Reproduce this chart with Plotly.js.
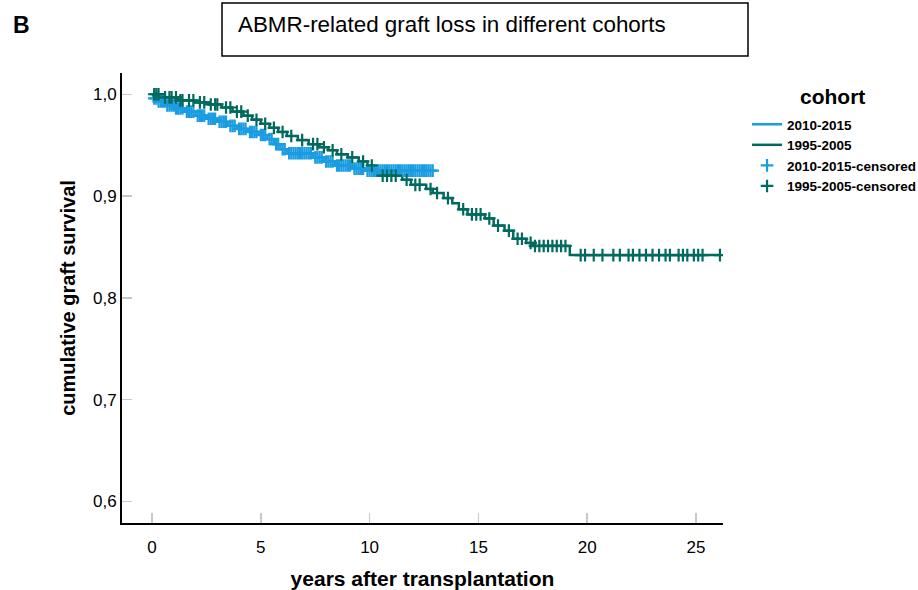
<!DOCTYPE html>
<html>
<head>
<meta charset="utf-8">
<script src="https://cdn.plot.ly/plotly-3.0.1.min.js"></script>
<style>html,body{margin:0;padding:0;background:#fff}#chart{width:918px;height:590px}</style>
</head>
<body>
<div id="chart"></div>
<script>
// ---- data ----
var cohortNames = ["2010-2015", "1995-2005"];

// Kaplan-Meier step points, cohort 2010-2015
var recentTimes = [0, 0.05, 0.3, 0.7, 1.1, 1.5, 2.0, 2.5, 3.0, 3.5, 3.9, 4.4, 4.9, 5.3, 5.6, 5.9, 6.2, 7.4, 7.9, 8.4, 9.2, 9.8, 12.9];
var recentSurv  = [1.0, 0.996, 0.993, 0.989, 0.986, 0.983, 0.979, 0.976, 0.973, 0.969, 0.966, 0.963, 0.960, 0.956, 0.951, 0.946, 0.942, 0.938, 0.934, 0.930, 0.927, 0.925, 0.925];

// Kaplan-Meier step points, cohort 1995-2005
var olderTimes = [0, 0.5, 1.2, 2.0, 2.6, 3.2, 3.7, 4.2, 4.6, 5.0, 5.4, 5.8, 6.2, 6.7, 7.2, 7.7, 8.1, 8.5, 9.0, 9.5, 9.9, 10.2, 10.4, 11.5, 11.9, 12.6, 12.9, 13.4, 13.8, 14.1, 14.5, 15.3, 15.7, 16.2, 16.6, 17.2, 17.5, 19.2, 26.1];
var olderSurv  = [1.0, 0.997, 0.994, 0.992, 0.990, 0.987, 0.983, 0.979, 0.975, 0.971, 0.967, 0.963, 0.959, 0.955, 0.951, 0.948, 0.945, 0.941, 0.938, 0.934, 0.930, 0.926, 0.920, 0.916, 0.911, 0.907, 0.903, 0.898, 0.893, 0.887, 0.882, 0.878, 0.871, 0.866, 0.858, 0.854, 0.851, 0.842, 0.842];

// censoring times
var recentCensored = [0.1,0.2,0.3,0.4,0.5,0.6,0.7,0.8,0.9,1.0,1.1,1.2,1.3,1.4,1.6,1.7,1.8,1.9,2.1,2.2,2.3,2.4,2.6,2.7,2.8,2.9,3.1,3.2,3.3,3.4,3.6,3.7,3.8,4.0,4.1,4.2,4.3,4.5,4.6,4.7,4.8,5.0,5.1,5.2,5.4,5.5,5.7,5.8,6.0,6.1,6.3,6.4,6.5,6.6,6.7,6.8,6.9,7.0,7.1,7.2,7.3,7.5,7.6,7.7,7.8,8.0,8.1,8.2,8.3,8.5,8.6,8.7,8.8,8.9,9.0,9.1,9.3,9.4,9.5,9.6,9.7,9.9,10.0,10.1,10.2,10.3,10.4,10.5,10.6,10.7,10.8,10.9,11.0,11.1,11.2,11.3,11.4,11.5,11.6,11.7,11.8,11.9,12.0,12.1,12.2,12.3,12.4,12.5,12.6,12.7,12.8,12.9];
var olderCensored = [0.1,0.2,0.3,0.6,0.8,0.9,1.1,1.3,1.4,1.7,1.9,2.2,2.4,2.7,2.9,3.0,3.4,3.6,3.9,4.1,4.4,4.8,5.2,5.6,6.0,6.4,6.9,7.4,7.6,7.9,8.3,8.7,9.2,9.7,10.1,10.6,10.8,11.0,11.2,11.7,12.1,12.3,12.8,13.1,13.6,14.3,14.7,14.9,15.1,15.5,15.9,16.4,16.8,17.0,17.4,17.6,17.8,18.0,18.2,18.4,18.6,18.8,19.0,19.7,19.9,20.3,20.7,21.2,21.5,21.9,22.1,22.4,22.7,23.0,23.3,23.6,23.8,24.2,24.4,24.6,24.9,25.1,25.3,26.1];

var xTicks = [0, 5, 10, 15, 20, 25];
var yTicks = [0.6, 0.7, 0.8, 0.9, 1.0];

// ---- helpers ----
function stepValue(times, surv, t) {
  var v = surv[0];
  for (var i = 0; i < times.length; i++) { if (times[i] <= t) v = surv[i]; }
  return v;
}
function censorY(times, surv, cens) { return cens.map(function (t) { return stepValue(times, surv, t); }); }

var blue = "#1a9ce2";
var green = "#006a5e";
var F = "Arial, 'Liberation Sans', sans-serif";

var traces = [
  {x: recentTimes, y: recentSurv, mode: "lines", line: {shape: "hv", color: blue, width: 2.5}, name: cohortNames[0]},
  {x: olderTimes, y: olderSurv, mode: "lines", line: {shape: "hv", color: green, width: 2.5}, name: cohortNames[1]},
  {x: recentCensored, y: censorY(recentTimes, recentSurv, recentCensored), mode: "markers",
   marker: {symbol: "cross-thin", size: 9, color: blue, line: {color: blue, width: 2.2}}, name: cohortNames[0] + "-censored"},
  {x: olderCensored, y: censorY(olderTimes, olderSurv, olderCensored), mode: "markers",
   marker: {symbol: "cross-thin", size: 9, color: green, line: {color: green, width: 2.2}}, name: cohortNames[1] + "-censored"}
];

var layout = {
  width: 918, height: 590,
  margin: {l: 122, r: 195, t: 73, b: 67, autoexpand: false},
  paper_bgcolor: "#fff", plot_bgcolor: "#fff",
  separators: ",.",
  font: {family: F, color: "#000"},
  showlegend: true,
  legend: {x: 1.04, y: 0.92, xanchor: "left", yanchor: "top", font: {family: F, size: 13.5, color: "#000", weight: "bold"},
           itemwidth: 30, tracegroupgap: 0, bgcolor: "rgba(0,0,0,0)"},
  xaxis: {range: [-1.38, 26.24], tickvals: xTicks, ticktext: xTicks.map(String), showgrid: false, zeroline: false,
          showline: true, linecolor: "#000", linewidth: 2, ticks: "inside", ticklen: 10, tickwidth: 1.5, tickcolor: "#c8c8c8",
          tickfont: {family: F, size: 17, color: "#000"}, ticklabelstandoff: 8,
          title: {text: "<b>years after transplantation</b>", font: {family: F, size: 21, color: "#000"}, standoff: 18}},
  yaxis: {range: [0.5788, 1.0209], tickvals: yTicks, tickformat: ".1f", showgrid: false, zeroline: false,
          showline: true, linecolor: "#000", linewidth: 2, ticks: "inside", ticklen: 10, tickwidth: 1.5, tickcolor: "#c8c8c8",
          tickfont: {family: F, size: 17, color: "#000"},
          title: {text: "<b>cumulative graft survival</b>", font: {family: F, size: 20, color: "#000"}, standoff: 12}},
  shapes: [
    {type: "rect", xref: "paper", yref: "paper", x0: (222 - 122) / 601, x1: (748 - 122) / 601, y0: (523 - 56) / 450, y1: (523 - 3) / 450,
     line: {color: "#000", width: 1.5}, fillcolor: "rgba(0,0,0,0)"}
  ],
  annotations: [
    {xref: "paper", yref: "paper", x: (236 - 122) / 601, y: (523 - 25) / 450, xanchor: "left", yanchor: "middle", showarrow: false,
     text: "ABMR-related graft loss in different cohorts", font: {family: F, size: 22.4, color: "#000"}},
    {xref: "paper", yref: "paper", x: (11 - 122) / 601, y: (523 - 25) / 450, xanchor: "left", yanchor: "middle", showarrow: false,
     text: "<b>B</b>", font: {family: F, size: 23, color: "#000"}},
    {xref: "paper", yref: "paper", x: (832 - 122) / 601, y: (523 - 96) / 450, xanchor: "center", yanchor: "middle", showarrow: false,
     text: "<b>cohort</b>", font: {family: F, size: 21, color: "#000"}}
  ]
};

Plotly.newPlot("chart", traces, layout, {displayModeBar: false, staticPlot: true});
</script>
</body>
</html>
